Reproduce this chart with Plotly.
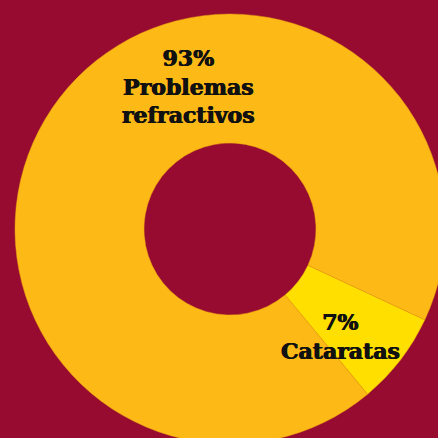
import plotly.graph_objects as go

labels = ["Cataratas", "Problemas refractivos"]
values = [7, 93]
colors = ["#FFDF00", "#FDBA17"]
label_lines = [["Cataratas"], ["Problemas", "refractivos"]]
# pixel anchor (center x, block center y) for each label block
label_pos = [(340, 336), (188, 86)]

W = H = 460
bg = "#970B30"

fig = go.Figure(go.Pie(
    labels=labels, values=values, sort=False, direction="clockwise",
    rotation=115, hole=0.4, textinfo="none", hoverinfo="label+percent",
    marker=dict(colors=colors, line=dict(color="#E8A010", width=0.5)),
    domain=dict(x=[15 / W, 445 / W], y=[(H - 444) / H, (H - 14) / H]),
    showlegend=False,
))

annotations = []
for lab, val, lines, (px, py) in zip(labels, values, label_lines, label_pos):
    text = "<br>".join([f"{val}%"] + lines)
    annotations.append(dict(
        text=text, x=px / W, y=1 - py / H,
        xref="paper", yref="paper", xanchor="center", yanchor="middle",
        showarrow=False, align="center",
        font=dict(family="DejaVu Serif", size=22, color="#111111", weight="bold",
                  shadow="0.5px 0 0 #111111, -0.5px 0 0 #111111"),
    ))

fig.update_layout(
    width=W, height=H, margin=dict(l=0, r=0, t=0, b=0),
    paper_bgcolor=bg, plot_bgcolor=bg, annotations=annotations,
)

fig.write_html(
    "out.html",
    config={"displayModeBar": False},
    post_script="document.body.style.margin='0';document.body.style.overflow='hidden';document.documentElement.style.overflow='hidden';",
)
